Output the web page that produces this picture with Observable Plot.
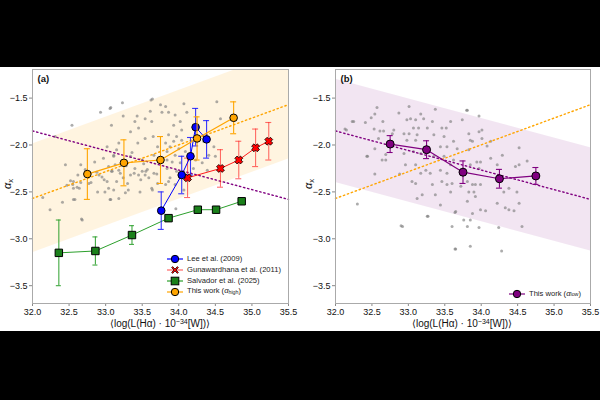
<!DOCTYPE html>
<html><head><meta charset="utf-8">
<script src="https://cdn.jsdelivr.net/npm/d3@7"></script>
<script src="https://cdn.jsdelivr.net/npm/@observablehq/plot@0.6"></script>
<style>
body{margin:0;background:#000;}
#fig{position:relative;width:600px;height:400px;background:#000;overflow:hidden;font-family:"Liberation Sans",Arial,sans-serif;}
#white{position:absolute;left:0;top:67px;width:600px;height:264px;background:#fff;}
.panel{position:absolute;top:67px;}
.panel g[aria-label$="tick"]{color:#888;}
.xlab{position:absolute;top:318px;font-size:10px;white-space:nowrap;transform:translateX(-50%);color:#111;line-height:12px;}
.ylab{position:absolute;font-size:11px;white-space:nowrap;transform:translate(-50%,-50%) rotate(-90deg);color:#111;}
.legend{position:absolute;font-size:7.6px;color:#222;line-height:10.8px;}
.legend .row{display:flex;align-items:center;height:10.8px;}
.legend svg{margin-right:4px;}
sub{font-size:70%;vertical-align:-0.25em;line-height:0;}
sup{font-size:70%;vertical-align:0.45em;line-height:0;}
</style></head>
<body>
<div id="fig">
  <div id="white"></div>
</div>
<script>
// ---------- data ----------
const xTicks = [32.0, 32.5, 33.0, 33.5, 34.0, 34.5, 35.0, 35.5];
const yTicks = [-3.5, -3.0, -2.5, -2.0, -1.5];

// This work (binned)
const workX = [32.75, 33.25, 33.75, 34.25, 34.75];
const workHighY = [-2.31, -2.19, -2.16, -1.93, -1.71];
const workHighErr = [0.27, 0.245, 0.25, 0.23, 0.17];
const workLowY = [-1.99, -2.05, -2.29, -2.36, -2.33];
const workLowErr = [0.09, 0.095, 0.12, 0.10, 0.09];

// Lee et al. (2009)
const leeX = [33.76, 34.04, 34.16, 34.23, 34.38];
const leeY = [-2.70, -2.32, -2.12, -1.81, -1.94];
const leeErr = [0.20, 0.20, 0.20, 0.20, 0.20];

// Gunawardhana et al. (2011)
const gunX = [34.12, 34.57, 34.82, 35.05, 35.23];
const gunY = [-2.35, -2.25, -2.16, -2.03, -1.96];
const gunErr = [0.21, 0.20, 0.20, 0.20, 0.20];

// Salvador et al. (2025)
const salX = [32.36, 32.86, 33.36, 33.86, 34.26, 34.51, 34.86];
const salY = [-3.15, -3.13, -2.96, -2.78, -2.69, -2.69, -2.60];
const salErr = [0.35, 0.15, 0.10, 0.03, 0.03, 0.03, 0.03];

// fit lines and scatter bands
const fitX = [32.0, 35.5];
const fitHighY = [-2.57, -1.57];
const fitLowY = [-1.85, -2.58];
const bandHighHalf = 0.58;
const bandLowHalf = 0.55;

// individual galaxies, alpha_high (panel a)
const galHighX = [32.54,32.31,32.45,32.62,32.52,32.55,32.47,32.56,32.61,32.64,32.66,32.14,32.41,32.58,32.24,32.67,32.80,33.96,33.07,32.93,33.64,33.43,
 33.23,33.06,33.62,33.75,33.77,33.61,33.24,33.40,33.54,33.08,33.63,33.45,33.34,33.65,33.54,33.44,33.18,33.02,33.36,33.11,32.97,33.66,33.50,33.13,33.04,33.18,33.08,33.40,33.50,33.54,33.45,33.59,33.34,33.24,32.95,33.02,33.15,33.66,33.11,32.99,33.31,33.63,33.18,33.06,33.47,
 33.82,33.86,33.95,34.07,34.11,34.02,33.93,34.04,33.86,33.97,33.82,33.93,34.04,33.88,34.00,33.84,34.09,33.95,34.48,34.41,34.50,34.34,34.52,34.57,33.91,34.02,33.84,33.97,33.88,34.23,34.20,34.32,34.39,33.82,33.95,34.07,
 32.66,32.56,32.77,32.91,32.98,33.09,33.04,32.89,33.27,33.07,32.56,32.68,33.39,33.48,33.55,33.34,33.11,33.71,33.84,33.71,33.64,33.86,
 32.72,32.85,33.20,33.28,33.57,33.70,33.30,33.15,32.88,33.52];
const galHighY = [-1.79,-1.91,-2.21,-2.32,-2.38,-2.42,-2.43,-2.46,-2.45,-2.46,-2.40,-2.56,-2.61,-2.58,-2.69,-2.79,-2.40,-2.68,-1.60,-1.65,-1.51,-1.69,
 -1.55,-1.61,-1.52,-1.57,-1.65,-1.64,-1.69,-1.75,-1.72,-1.79,-1.75,-1.82,-1.86,-1.91,-1.93,-1.98,-1.98,-2.02,-2.08,-2.11,-2.14,-2.11,-2.16,-2.21,-2.23,-2.27,-2.28,-2.25,-2.28,-2.32,-2.32,-2.35,-2.32,-2.35,-2.34,-2.39,-2.39,-2.30,-2.48,-2.50,-2.48,-2.46,-2.57,-2.58,-2.50,
 -1.59,-1.65,-1.68,-1.56,-1.65,-1.75,-1.79,-1.84,-1.89,-1.91,-1.98,-1.96,-1.95,-2.02,-2.04,-2.07,-2.07,-2.11,-2.02,-2.11,-2.12,-1.96,-1.54,-1.72,-2.18,-2.19,-2.25,-2.28,-2.35,-2.16,-2.25,-2.19,-2.27,-2.42,-2.42,-2.48,
 -2.21,-2.39,-2.41,-2.32,-2.37,-2.28,-2.46,-2.50,-2.51,-2.58,-2.58,-2.80,-2.30,-2.37,-2.28,-2.12,-2.12,-2.02,-2.16,-2.41,-2.48,-2.39,
 -2.26,-2.18,-2.30,-2.22,-2.26,-2.31,-2.41,-2.05,-2.29,-2.20];

// individual galaxies, alpha_low (panel b)
const galLowX = [32.57,32.49,32.54,32.23,32.41,32.65,32.87,32.13,32.53,32.61,32.66,32.80,32.78,32.59,32.54,32.69,32.64,32.69,32.44,32.54,32.30,32.88,
 33.01,33.37,33.17,32.98,33.03,33.10,33.21,33.33,33.58,33.74,33.07,33.14,33.26,33.46,33.52,32.94,33.01,33.12,33.35,33.49,33.62,32.98,33.10,33.44,33.53,33.67,32.94,33.07,33.17,33.35,33.49,33.62,32.96,33.10,33.24,33.17,33.30,33.44,33.58,33.53,33.05,33.10,33.33,33.46,33.53,33.60,33.58,33.37,33.19,33.12,33.72,33.44,33.65,33.26,33.60,32.92,33.76,33.65,
 33.81,33.97,34.01,33.97,33.83,33.85,33.88,34.01,34.13,34.08,33.83,34.52,34.29,34.63,33.94,33.99,34.13,33.85,34.47,34.52,34.22,33.97,33.81,33.88,33.92,33.99,33.83,33.90,33.92,33.81,34.38,34.49,34.31,34.52,34.22,34.33,34.38,34.45,33.99,34.06,33.88,33.85,34.56,33.81,34.24,33.97,33.85,34.28,
 32.90,33.27,33.64,33.64,32.25,32.15,32.43,33.80];
const galLowY = [-1.60,-1.71,-1.67,-1.75,-1.76,-1.75,-1.66,-1.83,-1.83,-1.85,-1.85,-1.84,-1.88,-1.93,-2.04,-2.10,-2.16,-2.16,-2.12,-2.31,-2.63,-2.31,
 -1.59,-1.62,-1.67,-1.73,-1.72,-1.73,-1.72,-1.75,-1.75,-1.73,-1.82,-1.82,-1.82,-1.82,-1.82,-1.88,-1.88,-1.89,-1.89,-1.91,-1.96,-1.95,-1.95,-2.02,-2.02,-2.04,-2.09,-2.07,-2.09,-2.12,-2.12,-2.16,-2.21,-2.21,-2.27,-2.30,-2.30,-2.27,-2.21,-2.30,-2.39,-2.41,-2.42,-2.39,-2.42,-2.41,-2.50,-2.53,-2.53,-2.57,-2.44,-2.64,-2.71,-2.76,-2.87,-2.87,-2.80,-3.11,
 -1.63,-1.69,-1.84,-1.86,-1.88,-1.95,-1.96,-1.93,-1.96,-2.01,-2.05,-2.03,-2.11,-2.17,-2.18,-2.18,-2.14,-2.21,-2.23,-2.21,-2.21,-2.25,-2.39,-2.42,-2.42,-2.42,-2.50,-2.50,-2.55,-2.60,-2.46,-2.50,-2.50,-2.62,-2.62,-2.67,-2.69,-2.70,-2.69,-2.70,-2.73,-2.80,-2.87,-2.87,-2.88,-2.88,-3.08,-3.13,
 -2.86,-2.76,-2.72,-3.11,-1.75,-1.84,-2.12,-1.63];

// ---------- helpers ----------
const fmt = d => d.toFixed(1).replace("-", "\u2212");
const zip = (X, Y, E) => X.map((x, i) => ({x, y: Y[i], e: E ? E[i] : 0}));
const orange = "#ffa500", purple = "#800080";

const xSymbol = {
  draw(ctx, size) {
    const r = Math.sqrt(size / Math.PI) * 1.05, t = r * 0.4, c = Math.SQRT1_2;
    const pts = [[t,-r],[t,-t],[r,-t],[r,t],[t,t],[t,r],[-t,r],[-t,t],[-r,t],[-r,-t],[-t,-t],[-t,-r]];
    pts.forEach(([x, y], i) => { const X = (x - y) * c, Y = (x + y) * c; i ? ctx.lineTo(X, Y) : ctx.moveTo(X, Y); });
    ctx.closePath();
  }
};

function errBars(data, stroke, opacity = 1, cap = 3) {
  return [
    Plot.ruleX(data, {x: "x", y1: d => d.y - d.e, y2: d => d.y + d.e, stroke, strokeOpacity: opacity, strokeWidth: 1.1}),
    Plot.ruleY(data, {y: d => d.y - d.e, x1: "x", x2: "x", insetLeft: -cap, insetRight: -cap, stroke, strokeOpacity: opacity, strokeWidth: 1.1}),
    Plot.ruleY(data, {y: d => d.y + d.e, x1: "x", x2: "x", insetLeft: -cap, insetRight: -cap, stroke, strokeOpacity: opacity, strokeWidth: 1.1})
  ];
}

const fitHigh = fitX.map((x, i) => ({x, y: fitHighY[i], y1: fitHighY[i] - bandHighHalf, y2: fitHighY[i] + bandHighHalf}));
const fitLow = fitX.map((x, i) => ({x, y: fitLowY[i], y1: fitLowY[i] - bandLowHalf, y2: fitLowY[i] + bandLowHalf}));
const dotted = {strokeWidth: 1.4, strokeDasharray: "1.4,2.8"};

function panel(left, marginLeft, marginRight, label, marks) {
  const svg = Plot.plot({
    width: 300, height: 268,
    marginLeft, marginRight, marginTop: 2, marginBottom: 32,
    style: {background: "transparent", fontFamily: "'Liberation Sans', Arial, sans-serif", fontSize: "9px", color: "#111", overflow: "visible"},
    x: {domain: [32, 35.5], ticks: xTicks, tickFormat: fmt, label: null, tickSize: 3, tickPadding: 2},
    y: {domain: [-3.69, -1.195], ticks: yTicks, tickFormat: fmt, label: null, tickSize: 3, tickPadding: 2},
    marks: [
      ...marks,
      Plot.text([label], {frameAnchor: "top-left", dx: 5, dy: 6, textAnchor: "start", lineAnchor: "top", fontWeight: "bold", fontSize: 9.5, fill: "#111"}),
      Plot.frame({stroke: "#aaa", strokeWidth: 1})
    ]
  });
  svg.classList.add("panel");
  svg.style.left = left + "px";
  document.getElementById("fig").appendChild(svg);
}

// ---------- panel (a) ----------
const work = zip(workX, workHighY, workHighErr);
const lee = zip(leeX, leeY, leeErr);
const gun = zip(gunX, gunY, gunErr);
const sal = zip(salX, salY, salErr);
panel(0, 32, 12, "(a)", [
  Plot.areaY(fitHigh, {x: "x", y1: "y1", y2: "y2", fill: orange, fillOpacity: 0.12, clip: true}),
  Plot.dot(zip(galHighX, galHighY), {x: "x", y: "y", r: 1.5, fill: "#808080", fillOpacity: 0.65, stroke: "none"}),
  Plot.line(fitHigh, {x: "x", y: "y", stroke: orange, ...dotted}),
  Plot.line(fitLow, {x: "x", y: "y", stroke: purple, ...dotted}),
  ...errBars(sal, "#2ca02c", 0.9, 2.5),
  Plot.line(sal, {x: "x", y: "y", stroke: "#2ca02c", strokeWidth: 1}),
  Plot.dot(sal, {x: "x", y: "y", symbol: "square", r: 4.2, fill: "#1a801a", stroke: "#000", strokeWidth: 1}),
  ...errBars(gun, "#ff2020", 0.65, 3),
  Plot.line(gun, {x: "x", y: "y", stroke: "#ff1a1a", strokeWidth: 1}),
  ...errBars(lee, "#2020ff", 0.9, 3),
  Plot.line(lee, {x: "x", y: "y", stroke: "#0000ff", strokeWidth: 1}),
  Plot.dot(gun, {x: "x", y: "y", symbol: xSymbol, r: 3.8, fill: "#ff0000", stroke: "#000", strokeWidth: 0.8}),
  Plot.dot(lee, {x: "x", y: "y", r: 3.8, fill: "#0000ff", stroke: "#000", strokeWidth: 1}),
  ...errBars(work, orange, 1, 3),
  Plot.line(work, {x: "x", y: "y", stroke: orange, strokeWidth: 1.2}),
  Plot.dot(work, {x: "x", y: "y", r: 3.8, fill: orange, stroke: "#000", strokeWidth: 1})
]);

// ---------- panel (b) ----------
const workLow = zip(workX, workLowY, workLowErr);
panel(300, 35, 10, "(b)", [
  Plot.areaY(fitLow, {x: "x", y1: "y1", y2: "y2", fill: purple, fillOpacity: 0.1, clip: true}),
  Plot.dot(zip(galLowX, galLowY), {x: "x", y: "y", r: 1.5, fill: "#808080", fillOpacity: 0.65, stroke: "none"}),
  Plot.line(fitHigh, {x: "x", y: "y", stroke: orange, ...dotted}),
  Plot.line(fitLow, {x: "x", y: "y", stroke: purple, ...dotted}),
  ...errBars(workLow, purple, 1, 3),
  Plot.line(workLow, {x: "x", y: "y", stroke: purple, strokeWidth: 1.2}),
  Plot.dot(workLow, {x: "x", y: "y", r: 4, fill: purple, stroke: "#000", strokeWidth: 1})
]);

// ---------- labels ----------
const fig = document.getElementById("fig");
function addHTML(cls, style, html) {
  const d = document.createElement("div");
  d.className = cls; Object.assign(d.style, style); d.innerHTML = html; fig.appendChild(d);
}
const xl = "\u27E8log(L(H\u03B1) \u00B7 10<sup>\u221234</sup>[W])\u27E9";
addHTML("xlab", {left: "160px"}, xl);
addHTML("xlab", {left: "462px"}, xl);
const yl = "<i>\u03B1</i><sub>x</sub>";
addHTML("ylab", {left: "7px", top: "184px"}, yl);
addHTML("ylab", {left: "308px", top: "184px"}, yl);

function legendIcon(color, lineColor, kind) {
  let m;
  if (kind === "circle") m = `<circle cx="8" cy="5" r="3.7" fill="${color}" stroke="#000" stroke-width="1"/>`;
  else if (kind === "square") m = `<rect x="4.2" y="1.2" width="7.6" height="7.6" fill="${color}" stroke="#000" stroke-width="1"/>`;
  else m = `<path d="M4.6,2.6 L5.6,1.6 L8,4 L10.4,1.6 L11.4,2.6 L9,5 L11.4,7.4 L10.4,8.4 L8,6 L5.6,8.4 L4.6,7.4 L7,5Z" fill="${color}" stroke="#000" stroke-width="0.7"/>`;
  return `<svg width="16" height="10"><line x1="0" y1="5" x2="16" y2="5" stroke="${lineColor}" stroke-width="1.2"/>${m}</svg>`;
}
addHTML("legend", {left: "167px", top: "254px"},
  `<div class="row">${legendIcon("#0000ff", "#0000ff", "circle")}Lee et al. (2009)</div>` +
  `<div class="row">${legendIcon("#ff0000", "#ff6666", "x")}Gunawardhana et al. (2011)</div>` +
  `<div class="row">${legendIcon("#1a801a", "#2ca02c", "square")}Salvador et al. (2025)</div>` +
  `<div class="row">${legendIcon(orange, orange, "circle")}This work (<i>\u03B1</i><sub>high</sub>)</div>`);
addHTML("legend", {left: "509px", top: "288.5px"},
  `<div class="row">${legendIcon(purple, purple, "circle")}This work (<i>\u03B1</i><sub>low</sub>)</div>`);
</script>
</body></html>
